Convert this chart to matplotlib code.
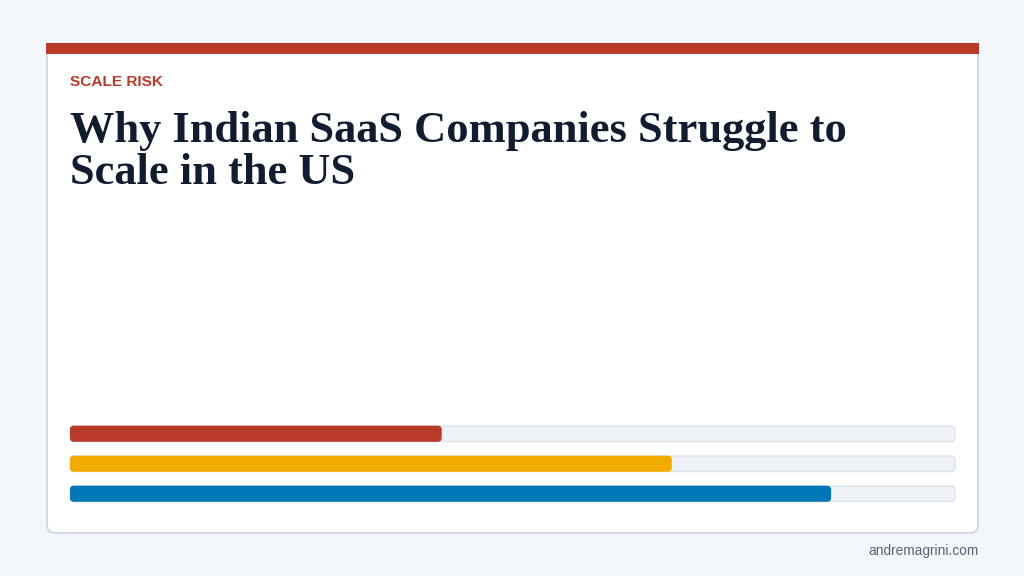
import matplotlib
matplotlib.use("Agg")
import matplotlib.pyplot as plt
from matplotlib.patches import FancyBboxPatch, Rectangle

eyebrow = "SCALE RISK"
title_lines = ["Why Indian SaaS Companies Struggle to", "Scale in the US"]
credit = "andremagrini.com"
bar_values = [42, 68, 86]
bar_colors = ["#B93A28", "#F4AB00", "#0077B6"]

W, H = 1024, 576
fig = plt.figure(figsize=(W / 100, H / 100), dpi=100, facecolor="#F3F6FA")

# page layer in pixel coordinates
bg = fig.add_axes([0, 0, 1, 1])
bg.set_xlim(0, W)
bg.set_ylim(H, 0)
bg.axis("off")
bg.add_patch(FancyBboxPatch((47, 44), 931, 489, boxstyle="round,pad=0,rounding_size=8",
                            fc="white", ec="#D3D9E2", lw=1.4))
bg.add_patch(Rectangle((46, 43), 933, 10.5, fc="#B93A28", ec="none"))
bg.text(70, 81.5, eyebrow, color="#B93A28", fontsize=11.05, fontweight="bold",
        family="Liberation Sans", va="center", ha="left")
for line, y in zip(title_lines, [142, 184]):
    bg.text(69.5, y, line, color="#111C30", fontsize=32.05, fontweight="bold",
            family="Liberation Serif", va="baseline", ha="left")
bg.text(978.5, 551, credit, color="#56627A", fontsize=9.9,
        family="Liberation Sans", va="center", ha="right")

# bar layer: x is percent, y is pixels
left, right, top, bottom = 70, 955, 426, 502
ax = fig.add_axes([left / W, 1 - bottom / H, (right - left) / W, (bottom - top) / H])
ax.set_xlim(0, 100)
ax.set_ylim(bottom, top)
ax.axis("off")
px = (right - left) / 100
for i, (v, c) in enumerate(zip(bar_values, bar_colors)):
    y = top + 30 * i
    ax.add_patch(FancyBboxPatch((0, y), 100, 15.5, boxstyle=f"round,pad=0,rounding_size={4 / px}",
                                mutation_aspect=px, fc="#EEF1F6", ec="#DDE2EA", lw=1.0, clip_on=False))
    ax.add_patch(FancyBboxPatch((0, y - 0.3), v, 16.1, boxstyle=f"round,pad=0,rounding_size={4 / px}",
                                mutation_aspect=px, fc=c, ec="none", clip_on=False))

fig.savefig("out.png", dpi=100, facecolor=fig.get_facecolor())
